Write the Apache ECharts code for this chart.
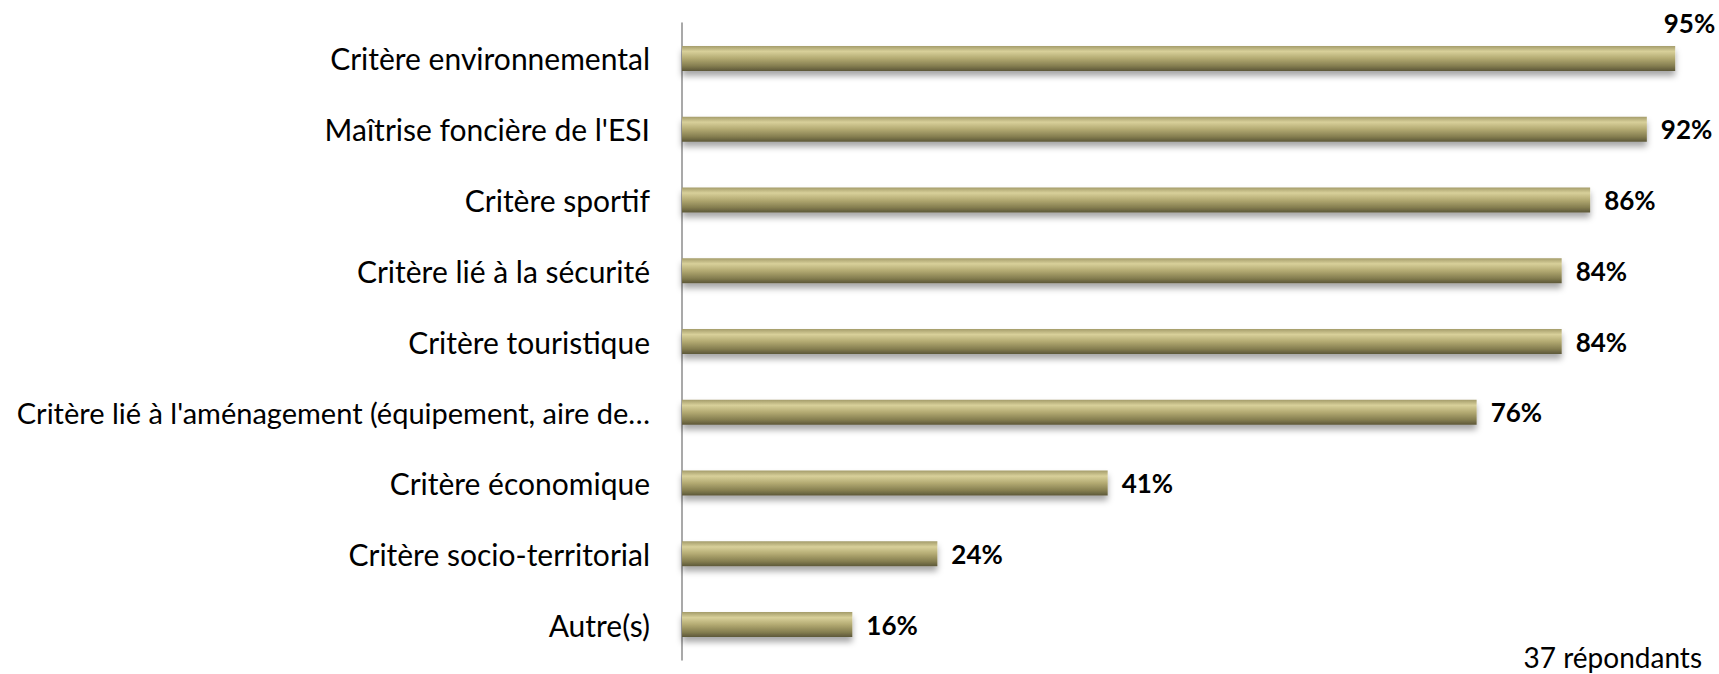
<!DOCTYPE html>
<html>
<head>
<meta charset="utf-8">
<script src="https://cdn.jsdelivr.net/npm/echarts@6/dist/echarts.min.js"></script>
<style>
  html, body { margin: 0; padding: 0; background: #fff; }
  #chart { width: 1719px; height: 674px; font-variant-ligatures: none; }
  #chart text { font-variant-ligatures: none; font-feature-settings: "liga" 0, "clig" 0; }
</style>
</head>
<body>
<div id="chart"></div>
<script>
// critères, du haut vers le bas
var categories = [
  "Critère environnemental",
  "Maîtrise foncière de l'ESI",
  "Critère sportif",
  "Critère lié à la sécurité",
  "Critère touristique",
  "Critère lié à l'aménagement (équipement, aire de…",
  "Critère économique",
  "Critère socio-territorial",
  "Autre(s)"
];
// part des répondants (%), 37 répondants
var values = [94.59, 91.89, 86.49, 83.78, 83.78, 75.68, 40.54, 24.32, 16.22];
var note = "37 répondants";

var chart = echarts.init(document.getElementById("chart"), null, { renderer: "svg" });

var barColor = new echarts.graphic.LinearGradient(0, 0, 0, 1, [
  { offset: 0, color: "#a49c6a" },
  { offset: 0.22, color: "#d8d09a" },
  { offset: 0.5, color: "#b3aa72" },
  { offset: 0.8, color: "#857e50" },
  { offset: 1, color: "#5c5738" }
]);

var seriesData = values.map(function (v, i) {
  var item = { value: v };
  if (i === 0) {
    // pas de place à droite : étiquette au-dessus
    item.label = { position: "insideTopRight", offset: [54, -50] };
  }
  return item;
});

chart.setOption({
  animation: false,
  textStyle: { fontFamily: "Lato, 'Open Sans', sans-serif" },
  grid: {
    left: 682,
    top: 23,
    width: 1050,
    height: 637,
    outerBoundsMode: "none"
  },
  xAxis: {
    type: "value",
    min: 0,
    max: 100,
    show: false
  },
  yAxis: {
    type: "category",
    data: categories,
    inverse: true,
    axisTick: { show: false },
    axisLine: { lineStyle: { color: "#8c8c8c", width: 1.5 } },
    axisLabel: {
      color: "#000",
      fontSize: 30,
      margin: 32,
      formatter: function (v) {
        // le libellé tronqué est plus long, un peu plus petit pour tenir
        return v.length > 40 ? "{long|" + v + "}" : v;
      },
      rich: {
        long: { fontSize: 29, color: "#000" }
      }
    }
  },
  series: [
    {
      type: "bar",
      data: seriesData,
      barWidth: 25,
      itemStyle: {
        color: barColor,
        shadowColor: "rgba(0, 0, 0, 0.35)",
        shadowBlur: 6,
        shadowOffsetY: 5
      },
      label: {
        show: true,
        position: "right",
        distance: 14,
        color: "#000",
        fontWeight: "bold",
        fontSize: 26,
        formatter: function (p) {
          return Math.round(p.value) + "%";
        }
      }
    }
  ],
  title: {
    text: note,
    right: 17,
    bottom: 3,
    padding: 0,
    textStyle: { fontSize: 28, fontWeight: "normal", color: "#000" }
  }
});
</script>
</body>
</html>
